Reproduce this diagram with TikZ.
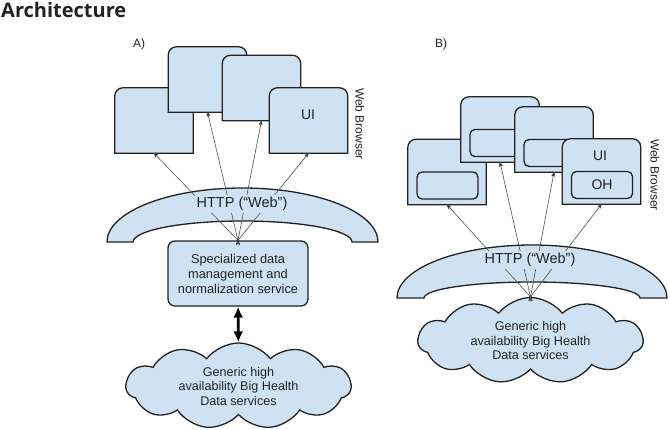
\documentclass[tikz,border=0pt]{standalone}
\usepackage{fontspec}
\setmainfont{Liberation Sans}
\newfontfamily\headfont{Open Sans}
\usetikzlibrary{positioning,shapes.symbols}
\usetikzlibrary{arrows,arrows.meta}
\definecolor{paleblue}{RGB}{207,226,243}
\definecolor{inkgray}{RGB}{34,34,34}
\definecolor{wiregray}{RGB}{80,80,80}
\newcommand{\fs}[2]{\fontsize{#1}{#2}\selectfont}
\newcommand{\winframe}[1]{\draw[frame] (#1.south west) [rounded corners=8pt] -- (#1.north west) -- (#1.north east) [sharp corners] -- (#1.south east) -- cycle;}

\begin{document}
\begin{tikzpicture}[x=1pt, y=-1pt]
\tikzset{
    every node/.style = {inner sep=0pt, align=center, text=inkgray},
    win/.style = {minimum width=78pt, minimum height=65pt},
    frame/.style = {draw=inkgray, fill=paleblue, line width=1.3pt},
    slot/.style = {draw=inkgray, fill=paleblue, line width=1.3pt, rounded corners=5pt,
                   minimum width=61pt, minimum height=27pt, font=\fs{14}{16}},
    band/.style = {draw=inkgray, fill=paleblue, line width=1.3pt},
    bandtext/.style = {fill=paleblue, inner sep=2pt, font=\fs{14.5}{16}},
    puffy/.style = {cloud, cloud puffs=11, cloud puff arc=105, aspect=2.6,
                    draw=inkgray, fill=paleblue, line width=1.3pt,
                    minimum width=225pt, minimum height=82pt, font=\fs{12.6}{14.5}},
    side/.style = {rotate=-90, font=\fs{12}{14}},
    wire/.style = {draw=wiregray, line width=0.6pt, ->, >=stealth'},
    hub/.style = {fill=inkgray, circle, minimum size=3pt},
    baseline = (current bounding box.north)
}
\useasboundingbox (0,0) rectangle (670,429);

% -------------------------------------------------------
\node[anchor=base west, font=\headfont\bfseries\fs{20}{22}] (title) at (1,17) {Architecture};

\node[font=\fs{12}{14}] (labA) at (139,44) {A)};
\node[font=\fs{12}{14}] (labB) at (441,44) {B)};

% ---- A) browsers
\node[win] (a1) at (154,120.5) {};
\winframe{a1}
\node[win] (a2) at (207.5,79.5) {};
\winframe{a2}
\node[win] (a3) at (261.5,88) {};
\winframe{a3}
\node[win] (a4) at (308.5,120.5) {};
\winframe{a4}
\node[font=\fs{14}{16}] (uiA) at (308,115) {UI};

\node[side] (webA) at (360,124) {Web Browser};

% ---- B) browsers
\node[win] (b1) at (447,172) {};
\winframe{b1}
\node[slot] (s1) at (447.5,185.5) {};
\node[win] (b2) at (500,129.5) {};
\winframe{b2}
\node[slot] (s2) at (500.5,143) {};
\node[win] (b3) at (554,139.5) {};
\winframe{b3}
\node[slot] (s3) at (554.5,153) {};
\node[win] (b4) at (601.5,171.5) {};
\winframe{b4}
\node[slot] (s4) at (602,185) {OH};
\node[font=\fs{14}{16}] (uiB) at (600,156) {UI};

\node[side] (webB) at (655,175) {Web Browser};

% ---- HTTP bands
\draw[band] (107,242) arc[start angle=180, end angle=360, x radius=135.5, y radius=54]
    -- ++(-26,0) arc[start angle=360, end angle=180, x radius=109.5, y radius=21] -- cycle;
\draw[band] (397,298) arc[start angle=180, end angle=360, x radius=135, y radius=53]
    -- ++(-27,0) arc[start angle=360, end angle=180, x radius=108, y radius=16] -- cycle;

% ---- services
\node[draw=inkgray, fill=paleblue, line width=1.3pt, rounded corners=7pt,
      minimum width=140pt, minimum height=65pt, font=\fs{12.8}{15}] (spec) at (238,273.5) {
    Specialized data\\
    management and\\
    normalization service
};

\node[puffy] (cloudA) at (238.5,386) {
    Generic high\\
    availability Big Health\\
    Data services
};

\node[puffy] (cloudB) at (530.5,340.5) {
    Generic high\\
    availability Big Health\\
    Data services
};

\node[hub] (hubA) at (spec.north) {};
\node[hub] (hubB) at (cloudB.north) {};

% -------------------------------------------------------
\path[wire] (hubA.center) edge (a1.south);
\path[wire] (hubA.center) edge (a2.south);
\path[wire] (hubA.center) edge (a3.south);
\path[wire] (hubA.center) edge (a4.south);

\path[wire] (hubB.center) edge (b1.south);
\path[wire] (hubB.center) edge (b2.south);
\path[wire] (hubB.center) edge (b3.south);
\path[wire] (hubB.center) edge (b4.south);

\node[bandtext] (httpA) at (242,204) {HTTP (“Web”)};
\node[bandtext] (httpB) at (530,260) {HTTP (“Web”)};

\path[{Latex[length=11pt,width=10pt]}-{Latex[length=11pt,width=10pt]}, draw=black, line width=2.6pt]
    (spec) edge (cloudA);
\end{tikzpicture}
\end{document}
